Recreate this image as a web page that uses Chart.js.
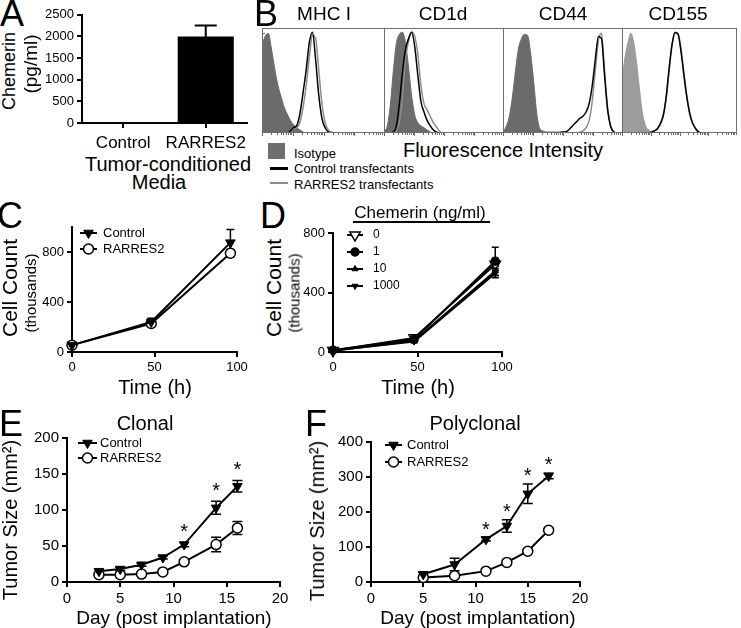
<!DOCTYPE html>
<html>
<head>
<meta charset="utf-8">
<script src="https://cdn.jsdelivr.net/npm/chart.js"></script>
<style>
html, body { margin: 0; padding: 0; background: #fff; }
#fig { position: relative; width: 741px; height: 628px; overflow: hidden; font-family: "Liberation Sans", Arial, sans-serif; color: #000; }
#fig canvas { position: absolute; }
.t { position: absolute; white-space: nowrap; line-height: 1; transform: translate(-50%, -50%); }
.r { transform: translate(-50%, -50%) rotate(-90deg); }
.l { position: absolute; white-space: nowrap; line-height: 1; transform: translateY(-50%); }
.box { position: absolute; }
</style>
</head>
<body>
<div id="fig">
  <canvas id="cA"></canvas>
  <canvas id="cB1"></canvas><canvas id="cB2"></canvas><canvas id="cB3"></canvas><canvas id="cB4"></canvas>
  <canvas id="cC"></canvas>
  <canvas id="cD"></canvas>
  <canvas id="cE"></canvas>
  <canvas id="cF"></canvas>

  <!-- A -->
  <div class="t" style="left:12px;top:14px;font-size:36px">A</div>
  <div class="t r" style="left:9px;top:71px;font-size:18px">Chemerin</div>
  <div class="t r" style="left:30px;top:64px;font-size:19px">(pg/ml)</div>
  <div class="t" style="left:168px;top:164px;font-size:20px">Tumor-conditioned</div>
  <div class="t" style="left:159px;top:182px;font-size:20px">Media</div>

  <!-- B -->
  <div class="t" style="left:266px;top:14px;font-size:36px">B</div>
  <div class="t" style="left:324px;top:13px;font-size:19px">MHC I</div>
  <div class="t" style="left:443px;top:13px;font-size:19px">CD1d</div>
  <div class="t" style="left:563px;top:13px;font-size:19px">CD44</div>
  <div class="t" style="left:678px;top:13px;font-size:19px">CD155</div>
  <div class="t" style="left:503px;top:150px;font-size:20px">Fluorescence Intensity</div>
  <div class="box" style="left:268px;top:143px;width:17px;height:16px;background:#6e6e6e"></div>
  <div class="l" style="left:294px;top:153px;font-size:13px">Isotype</div>
  <div class="box" style="left:270px;top:167px;width:18px;height:3px;background:#000"></div>
  <div class="l" style="left:294px;top:168px;font-size:13px">Control transfectants</div>
  <div class="box" style="left:270px;top:182px;width:18px;height:2px;background:#8c8c8c"></div>
  <div class="l" style="left:294px;top:184px;font-size:13px">RARRES2 transfectants</div>

  <!-- C -->
  <div class="t" style="left:10px;top:216px;font-size:36px">C</div>
  <div class="t r" style="left:9px;top:288px;font-size:21px">Cell Count</div>
  <div class="t r" style="left:30px;top:293px;font-size:15px">(thousands)</div>
  <div class="t" style="left:155px;top:387px;font-size:20px">Time (h)</div>

  <!-- D -->
  <div class="t" style="left:273px;top:216px;font-size:36px">D</div>
  <div class="t r" style="left:273px;top:288px;font-size:21px">Cell Count</div>
  <div class="t r" style="left:294px;top:293px;font-size:15px">(thousands)</div>
  <div class="t" style="left:418px;top:387px;font-size:20px">Time (h)</div>
  <div class="t" style="left:420px;top:212px;font-size:17px">Chemerin (ng/ml)</div>
  <div class="box" style="left:353px;top:221px;width:137px;height:2px;background:#000"></div>

  <!-- E -->
  <div class="t" style="left:11px;top:424px;font-size:36px">E</div>
  <div class="t" style="left:145px;top:423px;font-size:20px">Clonal</div>
  <div class="t r" style="left:10px;top:520px;font-size:20px">Tumor Size (mm²)</div>
  <div class="t" style="left:174px;top:617px;font-size:19px">Day (post implantation)</div>

  <!-- F -->
  <div class="t" style="left:316px;top:424px;font-size:36px">F</div>
  <div class="t" style="left:475px;top:423px;font-size:20px">Polyclonal</div>
  <div class="t r" style="left:317px;top:521px;font-size:20px">Tumor Size (mm²)</div>
  <div class="t" style="left:478px;top:617px;font-size:19px">Day (post implantation)</div>
</div>

<script>
// ---- A: chemerin in tumor-conditioned media ----
const aGroups = ['Control', 'RARRES2'];
const aChemerin = [0, 2000];
const aErr = [0, 250];
const aTicks = [0, 500, 1000, 1500, 2000, 2500];

// ---- B: flow histograms, 40 bins each, % of max ----
const histBins = [0,1,2,3,4,5,6,7,8,9,10,11,12,13,14,15,16,17,18,19,20,21,22,23,24,25,26,27,28,29,30,31,32,33,34,35,36,37,38,39];
const mhcIso = [84,92,95,80,62,46,35,25,18,12,8,5,3,1,0,0,0,0,0,0,0,0,0,0,0,0,0,0,0,0,0,0,0,0,0,0,0,0,0,0];
const mhcCtl = [0,0,0,0,0,0,0,0,0,2,5,7,18,38,60,86,96,70,36,14,5,1,0,0,0,0,0,0,0,0,0,0,0,0,0,0,0,0,0,0];
const mhcRar = [0,0,0,0,0,0,0,0,0,1,4,5,10,24,45,72,93,90,60,28,10,3,1,0,0,0,0,0,0,0,0,0,0,0,0,0,0,0,0,0];
const cd1dIso = [2,6,25,58,85,94,96,86,62,35,17,10,7,5,3,1,0,0,0,0,0,0,0,0,0,0,0,0,0,0,0,0,0,0,0,0,0,0,0,0];
const cd1dCtl = [0,0,0,1,6,28,58,80,90,96,82,55,30,20,12,7,3,1,0,0,0,0,0,0,0,0,0,0,0,0,0,0,0,0,0,0,0,0,0,0];
const cd1dRar = [0,0,0,0,2,10,35,70,88,96,92,75,45,28,22,16,10,6,2,0,0,0,0,0,0,0,0,0,0,0,0,0,0,0,0,0,0,0,0,0];
const cd44Iso = [1,6,15,33,58,80,90,94,93,75,48,18,4,2,1,1,1,1,1,0,0,0,0,0,0,0,0,0,0,0,0,0,0,0,0,0,0,0,0,0];
const cd44Ctl = [0,0,0,0,0,0,0,0,0,0,0,0,0,0,0,0,0,0,0,1,1,2,5,8,11,14,16,20,28,45,70,92,90,55,22,6,1,0,0,0];
const cd44Rar = [0,0,0,0,0,0,0,0,0,0,0,0,0,0,0,0,0,0,0,0,0,0,0,0,0,1,2,5,12,30,60,88,95,60,24,7,1,0,0,0];
const cd155Iso = [50,72,86,95,86,66,40,18,7,3,1,0,0,0,0,0,0,0,0,0,0,0,0,0,0,0,0,0,0,0,0,0,0,0,0,0,0,0,0,0];
const cd155Ctl = [0,0,0,0,0,0,0,0,0,0,1,2,4,9,17,35,62,85,96,94,78,55,34,18,9,4,1,0,0,0,0,0,0,0,0,0,0,0,0,0];
const cd155Rar = [0,0,0,0,0,0,0,0,0,0,1,2,4,8,16,33,60,84,95,95,80,57,35,19,9,4,1,0,0,0,0,0,0,0,0,0,0,0,0,0];

// ---- C: proliferation of transfectants ----
const cHours = [0, 48, 96];
const cControl = [55, 240, 875];
const cControlErr = [10, 30, 105];
const cRarres = [55, 228, 790];
const cRarresErr = [10, 25, 30];
const hourTicks = [0, 50, 100];
const countTicks = [0, 400, 800];

// ---- D: proliferation with recombinant chemerin ----
const dHours = [0, 48, 96];
const dDoses = ['0', '1', '10', '1000'];
const dDose0 = [10, 95, 590];
const dDose1 = [12, 85, 610];
const dDose10 = [8, 75, 545];
const dDose1000 = [10, 70, 530];
const dErr0 = [5, 10, 40];
const dErr1 = [5, 10, 95];
const dErr10 = [5, 8, 30];
const dErr1000 = [5, 8, 30];

// ---- E: clonal tumor growth ----
const eDays = [3, 5, 7, 9, 11, 14, 16];
const eControl = [15, 18, 24, 34, 52, 103, 133];
const eControlErr = [2, 2, 2, 2, 3, 9, 8];
const eRarres = [10, 10, 11, 14, 28, 52, 75];
const eRarresErr = [1, 1, 1, 2, 2, 10, 9];
const eSigDays = [11, 14, 16];
const eSizeTicks = [0, 50, 100, 150, 200];

// ---- F: polyclonal tumor growth ----
const fDays = [5, 8, 11, 13, 15, 17];
const fControl = [22, 50, 122, 160, 252, 303];
const fControlErr = [5, 18, 5, 18, 28, 8];
const fRarres = [13, 18, 31, 56, 88, 148];
const fRarresErr = [2, 2, 2, 3, 4, 5];
const fSigDays = [11, 13, 15, 17];
const fSizeTicks = [0, 100, 200, 300, 400];
const dayTicks = [0, 5, 10, 15, 20];

const FONT = '"Liberation Sans", Arial, Helvetica, sans-serif';
Chart.defaults.font.family = FONT;
Chart.defaults.color = '#000';

function drawMarker(ctx, ds, x, y) {
  const r = ds.pointRadius;
  ctx.save();
  ctx.fillStyle = ds.pointBackgroundColor;
  ctx.strokeStyle = ds.pointBorderColor;
  ctx.lineWidth = ds.pointBorderWidth;
  ctx.beginPath();
  if (ds.pointStyle === 'triangle') {
    let a = (ds.pointRotation || 0) * Math.PI / 180;
    for (let k = 0; k < 3; k++) {
      const px = x + Math.sin(a) * r, py = y - Math.cos(a) * r;
      if (k) ctx.lineTo(px, py); else ctx.moveTo(px, py);
      a += 2 * Math.PI / 3;
    }
    ctx.closePath();
  } else {
    ctx.arc(x, y, r, 0, 2 * Math.PI);
  }
  ctx.fill();
  ctx.stroke();
  ctx.restore();
}

function valueAt(ds, i) {
  const p = ds.data[i];
  return typeof p === 'object' ? p.y : p;
}

// error bars, drawn under the markers
const errorBars = {
  id: 'errorBars',
  beforeDatasetsDraw(chart, args, opts) {
    const ctx = chart.ctx, ys = chart.scales.y;
    ctx.save();
    ctx.strokeStyle = '#000';
    ctx.lineWidth = opts.width || 1.5;
    chart.data.datasets.forEach((ds, di) => {
      if (!ds.errors) return;
      chart.getDatasetMeta(di).data.forEach((el, i) => {
        const e = ds.errors[i];
        if (!e) return;
        const v = valueAt(ds, i);
        const top = ys.getPixelForValue(v + e), bot = ys.getPixelForValue(Math.max(v - e, 0));
        const c = opts.cap || 4;
        ctx.beginPath();
        ctx.moveTo(el.x, top); ctx.lineTo(el.x, bot);
        ctx.moveTo(el.x - c, top); ctx.lineTo(el.x + c, top);
        ctx.moveTo(el.x - c, bot); ctx.lineTo(el.x + c, bot);
        ctx.stroke();
      });
    });
    ctx.restore();
  }
};

// GraphPad-style key: line + marker + label
const keyPlugin = {
  id: 'key',
  afterDraw(chart, args, opts) {
    if (opts.dy === undefined) return;
    const ctx = chart.ctx, a = chart.chartArea;
    ctx.save();
    ctx.font = opts.size + 'px ' + FONT;
    ctx.textBaseline = 'middle';
    chart.data.datasets.forEach((ds, i) => {
      const y = a.top + opts.y + i * opts.dy, x0 = a.left + opts.x;
      ctx.strokeStyle = '#000';
      ctx.lineWidth = 2;
      ctx.beginPath(); ctx.moveTo(x0, y); ctx.lineTo(x0 + opts.len, y); ctx.stroke();
      drawMarker(ctx, ds, x0 + opts.len / 2, y);
      ctx.fillStyle = '#000';
      ctx.fillText(ds.label, x0 + opts.len + opts.gap, y);
    });
    ctx.restore();
  }
};

// significance asterisks above the control series
const stars = {
  id: 'stars',
  afterDatasetsDraw(chart, args, opts) {
    if (!opts.at) return;
    const ctx = chart.ctx, ds = chart.data.datasets[0];
    ctx.save();
    ctx.font = opts.size + 'px ' + FONT;
    ctx.textAlign = 'center';
    ctx.textBaseline = 'alphabetic';
    ctx.fillStyle = '#000';
    opts.at.forEach(day => {
      const i = ds.data.findIndex(p => p.x === day);
      const top = chart.scales.y.getPixelForValue(ds.data[i].y + ds.errors[i]);
      ctx.fillText('*', chart.scales.x.getPixelForValue(day), top - opts.gap + opts.size * 0.6);
    });
    ctx.restore();
  }
};

// histogram frame with log-decade ticks
const frame = {
  id: 'frame',
  afterDraw(chart, args, opts) {
    const ctx = chart.ctx, a = chart.chartArea;
    ctx.save();
    ctx.strokeStyle = '#6e6e6e';
    ctx.lineWidth = 1;
    ctx.strokeRect(a.left + 0.5, a.top + 0.5, a.right - a.left - 1, a.bottom - a.top - 1);
    ctx.beginPath();
    for (let d = 0; d < 4; d++) {
      for (let k = 1; k < 10; k++) {
        const px = Math.round(a.left + (a.right - a.left) * (d + Math.log10(k)) / 4) + 0.5;
        ctx.moveTo(px, a.bottom); ctx.lineTo(px, a.bottom + (k === 1 ? 3 : 2));
      }
    }
    if (opts.leftTicks) {
      for (let k = 0; k <= 5; k++) {
        const py = Math.round(a.bottom - (a.bottom - a.top - 6) * k / 5) - 0.5;
        ctx.moveTo(a.left, py); ctx.lineTo(a.left + 3, py);
      }
    }
    ctx.stroke();
    ctx.restore();
  }
};

function place(id, plot, m) {
  const cv = document.getElementById(id);
  cv.width = plot.r - plot.l + m.l + m.r;
  cv.height = plot.b - plot.t + m.t + m.b;
  cv.style.left = (plot.l - m.l) + 'px';
  cv.style.top = (plot.t - m.t) + 'px';
  return cv;
}

function axis(pos, size, fontSize, tickVals, extra) {
  const ax = {
    position: pos,
    afterFit: s => { if (pos === 'left') s.width = size; else s.height = size; },
    border: { display: true, color: '#000', width: 2 },
    grid: { drawOnChartArea: false, color: '#000', lineWidth: 2, tickLength: 5 },
    ticks: { color: '#000', font: { size: fontSize }, padding: 3, maxRotation: 0, autoSkip: false }
  };
  if (tickVals) {
    ax.afterBuildTicks = s => { s.ticks = tickVals.map(v => ({ value: v })); };
    ax.ticks.callback = v => String(v);
  }
  return Object.assign(ax, extra);
}

const pts = (xs, ys) => xs.map((x, i) => ({ x: x, y: ys[i] }));

function series(label, xs, ys, errs, style) {
  return Object.assign({
    label: label, data: pts(xs, ys), errors: errs,
    borderColor: '#000', borderWidth: 2, tension: 0, clip: false,
    pointBorderColor: '#000', pointBackgroundColor: '#000', pointBorderWidth: 1.5,
    pointStyle: 'circle', pointRadius: 5, pointHoverRadius: 5
  }, style);
}
const TRI_DOWN = { pointStyle: 'triangle', pointRotation: 180, pointRadius: 5.5, pointBorderWidth: 1 };
const OPEN_CIRCLE = { pointStyle: 'circle', pointRadius: 5, pointBackgroundColor: '#fff' };

function linePanel(id, plot, m, xTicks, yTicks, xMax, yMax, fontSize, datasets, plug) {
  const cv = place(id, plot, m);
  return new Chart(cv, {
    type: 'line',
    data: { datasets: datasets },
    options: {
      responsive: false, animation: false, events: [],
      layout: { padding: { top: m.t, right: m.r, left: 0, bottom: 0 } },
      plugins: Object.assign({ legend: { display: false }, tooltip: { enabled: false } }, plug),
      scales: {
        x: axis('bottom', m.b, fontSize, xTicks, { type: 'linear', min: 0, max: xMax }),
        y: axis('left', m.l, fontSize, yTicks, { type: 'linear', min: 0, max: yMax })
      }
    },
    plugins: [errorBars, keyPlugin, stars]
  });
}

function histPanel(id, plot, iso, ctl, rar, isoColor, leftTicks) {
  const cv = place(id, plot, { l: 0, t: 0, r: 0, b: 4 });
  const line = { pointRadius: 0, fill: false, cubicInterpolationMode: 'monotone', borderWidth: 1.5 };
  return new Chart(cv, {
    type: 'line',
    data: {
      labels: histBins,
      datasets: [
        Object.assign({ data: ctl, borderColor: '#000', order: 1 }, line),
        Object.assign({ data: rar, borderColor: '#8c8c8c', order: 2 }, line),
        { data: iso, borderColor: isoColor, backgroundColor: isoColor, borderWidth: 1, fill: 'origin',
          pointRadius: 0, cubicInterpolationMode: 'monotone', order: 3 }
      ]
    },
    options: {
      responsive: false, animation: false, events: [],
      layout: { padding: { top: 0, right: 0, left: 0, bottom: 4 } },
      plugins: { legend: { display: false }, tooltip: { enabled: false }, frame: { leftTicks: leftTicks } },
      scales: { x: { display: false }, y: { display: false, min: 0, max: 100 } }
    },
    plugins: [frame]
  });
}

// A
(function () {
  const m = { l: 50, t: 10, r: 10, b: 30 };
  const cv = place('cA', { l: 82, t: 14, r: 247, b: 123 }, m);
  const x = axis('bottom', m.b, 17, null, { type: 'category', offset: true });
  x.grid.offset = false;
  x.ticks.padding = 5;
  new Chart(cv, {
    type: 'bar',
    data: { labels: aGroups, datasets: [{ data: aChemerin, errors: aErr, backgroundColor: '#000',
      barPercentage: 0.68, categoryPercentage: 1 }] },
    options: {
      responsive: false, animation: false, events: [],
      layout: { padding: { top: m.t, right: m.r, left: 0, bottom: 0 } },
      plugins: { legend: { display: false }, tooltip: { enabled: false }, errorBars: { cap: 11, width: 2 } },
      scales: { x: x, y: axis('left', m.l, 13, aTicks, { min: 0, max: 2500 }) }
    },
    plugins: [errorBars]
  });
})();

// B
histPanel('cB1', { l: 262, t: 28, r: 385, b: 133 }, mhcIso, mhcCtl, mhcRar, '#6b6b6b', true);
histPanel('cB2', { l: 384, t: 28, r: 504, b: 133 }, cd1dIso, cd1dCtl, cd1dRar, '#6b6b6b', false);
histPanel('cB3', { l: 503, t: 28, r: 623, b: 133 }, cd44Iso, cd44Ctl, cd44Rar, '#6b6b6b', false);
histPanel('cB4', { l: 622, t: 28, r: 737, b: 133 }, cd155Iso, cd155Ctl, cd155Rar, '#9c9c9c', false);

// C
linePanel('cC', { l: 72, t: 227, r: 237, b: 352 }, { l: 40, t: 12, r: 14, b: 26 },
  hourTicks, countTicks, 100, 1000, 13, [
    series('Control', cHours, cControl, cControlErr, TRI_DOWN),
    series('RARRES2', cHours, cRarres, cRarresErr, OPEN_CIRCLE)
  ], { errorBars: { cap: 4 }, key: { x: 8, y: 6, dy: 16, len: 17, gap: 6, size: 13 } });

// D (open-triangle series drawn underneath the filled ones)
linePanel('cD', { l: 333, t: 233, r: 502, b: 352 }, { l: 40, t: 12, r: 14, b: 26 },
  hourTicks, countTicks, 100, 800, 13, [
    series(dDoses[0], dHours, dDose0, dErr0, { pointStyle: 'triangle', pointRotation: 180, pointRadius: 6, pointBackgroundColor: '#fff', pointBorderWidth: 1.5, order: 4 }),
    series(dDoses[1], dHours, dDose1, dErr1, { pointRadius: 4, order: 1 }),
    series(dDoses[2], dHours, dDose10, dErr10, { pointStyle: 'triangle', pointRadius: 3.5, pointBorderWidth: 1, order: 2 }),
    series(dDoses[3], dHours, dDose1000, dErr1000, { pointStyle: 'triangle', pointRotation: 180, pointRadius: 3.5, pointBorderWidth: 1, order: 3 })
  ], { errorBars: { cap: 3.5 }, key: { x: 14, y: 2, dy: 17, len: 16, gap: 10, size: 12 } });

// E
linePanel('cE', { l: 67, t: 438, r: 280, b: 582 }, { l: 50, t: 12, r: 14, b: 30 },
  dayTicks, eSizeTicks, 20, 200, 15, [
    series('Control', eDays, eControl, eControlErr, TRI_DOWN),
    series('RARRES2', eDays, eRarres, eRarresErr, OPEN_CIRCLE)
  ], { errorBars: { cap: 5 }, key: { x: 11, y: 5, dy: 15, len: 19, gap: 3, size: 13 },
       stars: { at: eSigDays, gap: 16, size: 20 } });

// F
linePanel('cF', { l: 371, t: 442, r: 580, b: 582 }, { l: 50, t: 12, r: 14, b: 30 },
  dayTicks, fSizeTicks, 20, 400, 15, [
    series('Control', fDays, fControl, fControlErr, TRI_DOWN),
    series('RARRES2', fDays, fRarres, fRarresErr, OPEN_CIRCLE)
  ], { errorBars: { cap: 5 }, key: { x: 14, y: 3, dy: 17, len: 17, gap: 5, size: 13 },
       stars: { at: fSigDays, gap: 14, size: 20 } });
</script>
</body>
</html>
